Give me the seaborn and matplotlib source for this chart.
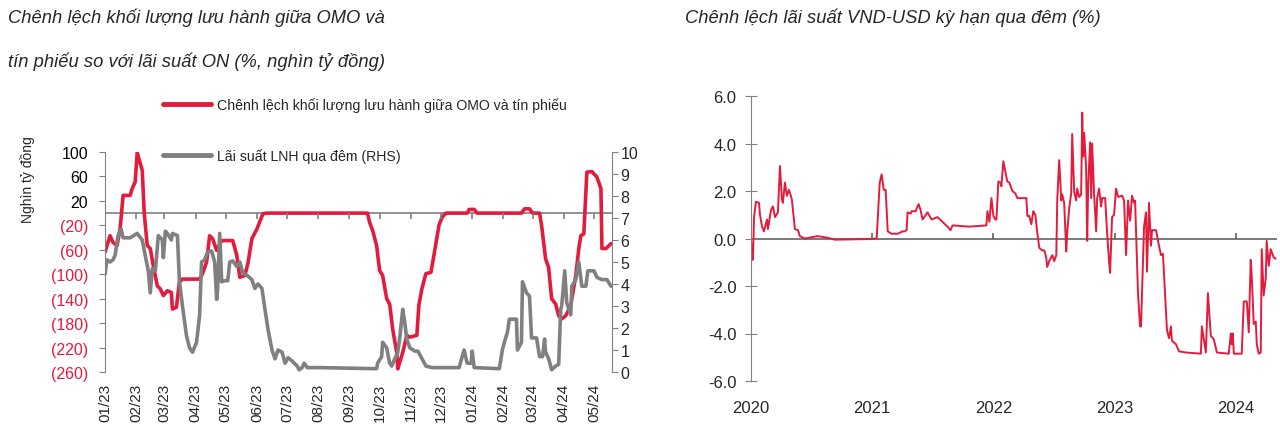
import pandas as pd
import seaborn as sns
import matplotlib.pyplot as plt
import matplotlib.dates as mdates
from matplotlib.lines import Line2D

sns.set_style("white")
plt.rcParams['font.family'] = ['Liberation Sans Narrow', 'Liberation Sans', 'DejaVu Sans']

RED = "#e31b3d"
GRAY = "#808080"

# Left chart: OMO - bill outstanding gap (thousand bn VND)
omo_dates = [
    "2023-01-01", "2023-01-06", "2023-01-09", "2023-01-13", "2023-01-16", "2023-01-19",
    "2023-01-26", "2023-01-28", "2023-01-31", "2023-02-02", "2023-02-07", "2023-02-09",
    "2023-02-12", "2023-02-15", "2023-02-18", "2023-02-22", "2023-02-25", "2023-02-28",
    "2023-03-04", "2023-03-08", "2023-03-09", "2023-03-13", "2023-03-16", "2023-03-19",
    "2023-04-05", "2023-04-08", "2023-04-12", "2023-04-15", "2023-04-18", "2023-04-22",
    "2023-04-27", "2023-05-08", "2023-05-12", "2023-05-15", "2023-05-20", "2023-05-23",
    "2023-05-27", "2023-06-01", "2023-06-07", "2023-06-11", "2023-09-19", "2023-09-21",
    "2023-09-24", "2023-09-28", "2023-10-01", "2023-10-04", "2023-10-08", "2023-10-11",
    "2023-10-14", "2023-10-18", "2023-10-19", "2023-10-21", "2023-10-24", "2023-10-28",
    "2023-10-31", "2023-11-07", "2023-11-09", "2023-11-12", "2023-11-16", "2023-11-21",
    "2023-11-24", "2023-11-29", "2023-12-02", "2023-12-06", "2023-12-27", "2023-12-29",
    "2024-01-03", "2024-01-06", "2024-02-19", "2024-02-22", "2024-02-27", "2024-03-01",
    "2024-03-08", "2024-03-10", "2024-03-14", "2024-03-17", "2024-03-20", "2024-03-24",
    "2024-03-27", "2024-03-30", "2024-04-03", "2024-04-08", "2024-04-13", "2024-04-16",
    "2024-04-18", "2024-04-21", "2024-04-24", "2024-04-29", "2024-05-04", "2024-05-08",
    "2024-05-09", "2024-05-13", "2024-05-18",
]
omo_gap = [
    -64, -37, -48, -53, -26, 29,
    29, 40, 51, 99, 70, 0,
    -53, -58, -86, -119, -124, -135,
    -127, -130, -157, -154, -113, -108,
    -108, -99, -80, -37, -42, -61,
    -45, -45, -69, -105, -102, -83,
    -42, -26, -1, 0, 0, -15,
    -28, -53, -94, -102, -140, -149,
    -190, -228, -255, -244, -228, -200,
    -203, -200, -151, -124, -99, -97,
    -69, -20, -7, 0, 0, 6,
    6, 0, 0, 7, 7, 0,
    0, -20, -75, -89, -140, -149,
    -168, -173, -168, -151, -102, -58,
    -37, -34, 67, 68, 59, 40,
    -58, -58, -50,
]

# Left chart: interbank overnight rate (%, RHS)
on_dates = [
    "2023-01-01", "2023-01-03", "2023-01-06", "2023-01-09", "2023-01-11", "2023-01-14",
    "2023-01-17", "2023-01-19", "2023-01-26", "2023-02-02", "2023-02-07", "2023-02-10",
    "2023-02-13", "2023-02-15", "2023-02-17", "2023-02-20", "2023-02-23", "2023-02-27",
    "2023-02-28", "2023-03-02", "2023-03-04", "2023-03-08", "2023-03-09", "2023-03-14",
    "2023-03-16", "2023-03-19", "2023-03-23", "2023-03-26", "2023-03-29", "2023-04-02",
    "2023-04-05", "2023-04-07", "2023-04-10", "2023-04-13", "2023-04-17", "2023-04-20",
    "2023-04-22", "2023-04-23", "2023-04-25", "2023-04-27", "2023-04-30", "2023-05-03",
    "2023-05-05", "2023-05-08", "2023-05-12", "2023-05-15", "2023-05-18", "2023-05-22",
    "2023-05-27", "2023-05-30", "2023-06-02", "2023-06-06", "2023-06-09", "2023-06-12",
    "2023-06-16", "2023-06-19", "2023-06-22", "2023-06-26", "2023-06-29", "2023-07-02",
    "2023-07-06", "2023-07-11", "2023-07-13", "2023-07-16", "2023-07-18", "2023-07-21",
    "2023-08-02", "2023-09-28", "2023-09-29", "2023-10-03", "2023-10-04", "2023-10-08",
    "2023-10-11", "2023-10-13", "2023-10-16", "2023-10-19", "2023-10-21", "2023-10-24",
    "2023-10-26", "2023-10-28", "2023-10-31", "2023-11-05", "2023-11-08", "2023-11-11",
    "2023-11-16", "2023-11-22", "2023-12-19", "2023-12-24", "2023-12-27", "2023-12-31",
    "2024-01-01", "2024-01-03", "2024-01-28", "2024-01-31", "2024-02-02", "2024-02-05",
    "2024-02-07", "2024-02-14", "2024-02-15", "2024-02-19", "2024-02-20", "2024-02-24",
    "2024-02-27", "2024-02-29", "2024-03-05", "2024-03-08", "2024-03-11", "2024-03-13",
    "2024-03-14", "2024-03-17", "2024-03-20", "2024-03-24", "2024-03-27", "2024-03-29",
    "2024-03-30", "2024-04-02", "2024-04-04", "2024-04-08", "2024-04-09", "2024-04-13",
    "2024-04-16", "2024-04-19", "2024-04-23", "2024-04-25", "2024-05-01", "2024-05-04",
    "2024-05-09", "2024-05-14", "2024-05-18",
]
on_rate = [
    4.45, 5.1, 5.0, 5.1, 5.3, 6.2,
    6.5, 6.1, 6.1, 6.3, 6.0, 5.3,
    4.6, 3.6, 4.7, 4.6, 6.2, 6.0,
    5.2, 6.4, 6.3, 6.0, 6.3, 6.2,
    4.1, 3.0, 1.65, 1.1, 0.9, 1.35,
    2.55, 5.0, 5.1, 5.45, 5.5, 5.0,
    3.3, 3.8, 6.3, 4.1, 4.15, 4.15,
    5.0, 5.05, 4.8, 5.0, 4.5, 4.4,
    4.2, 3.8, 4.0, 3.8, 2.85, 1.95,
    1.0, 0.6, 1.0, 0.9, 0.4, 0.65,
    0.5, 0.27, 0.1, 0.2, 0.4, 0.2,
    0.2, 0.15, 0.4, 0.7, 1.35, 1.1,
    0.4, 0.27, 0.6, 0.9, 1.55, 2.85,
    2.25, 1.5, 1.1, 0.95, 0.95, 0.7,
    0.27, 0.2, 0.2, 1.0, 0.4, 0.4,
    0.95, 0.2, 0.15, 1.0, 1.35, 1.8,
    2.4, 2.4, 1.0, 1.35, 4.1, 3.6,
    3.45, 1.55, 1.55, 0.7, 0.7, 1.5,
    0.9, 0.6, 0.1, 0.27, 0.35, 2.85,
    3.0, 4.6, 3.15, 2.6, 3.9, 4.2,
    5.0, 3.9, 3.9, 4.6, 4.6, 4.3,
    4.2, 4.2, 3.9,
]

# Right chart: VND-USD overnight rate spread (%), x in decimal years
spread_t = [
    2020.0, 2020.008, 2020.016, 2020.025, 2020.041, 2020.066, 2020.074, 2020.091,
    2020.107, 2020.132, 2020.140, 2020.165, 2020.181, 2020.198, 2020.222, 2020.239,
    2020.255, 2020.263, 2020.280, 2020.296, 2020.313, 2020.337, 2020.362, 2020.387,
    2020.403, 2020.444, 2020.551, 2020.634, 2020.691, 2020.996, 2021.037, 2021.062,
    2021.078, 2021.095, 2021.111, 2021.128, 2021.160, 2021.210, 2021.251, 2021.267,
    2021.284, 2021.292, 2021.317, 2021.325, 2021.358, 2021.383, 2021.399, 2021.416,
    2021.457, 2021.490, 2021.539, 2021.580, 2021.621, 2021.646, 2021.663, 2021.802,
    2021.942, 2021.951, 2021.967, 2021.984, 2022.000, 2022.016, 2022.025, 2022.041,
    2022.058, 2022.066, 2022.082, 2022.099, 2022.115, 2022.132, 2022.156, 2022.181,
    2022.198, 2022.230, 2022.272, 2022.280, 2022.296, 2022.313, 2022.329, 2022.346,
    2022.362, 2022.379, 2022.403, 2022.420, 2022.436, 2022.444, 2022.461, 2022.486,
    2022.502, 2022.519, 2022.527, 2022.543, 2022.560, 2022.568, 2022.584, 2022.601,
    2022.609, 2022.626, 2022.642, 2022.650, 2022.667, 2022.683, 2022.691, 2022.708,
    2022.724, 2022.733, 2022.741, 2022.749, 2022.765, 2022.774, 2022.782, 2022.798,
    2022.807, 2022.815, 2022.831, 2022.848, 2022.856, 2022.872, 2022.889, 2022.897,
    2022.922, 2022.938, 2022.955, 2022.963, 2022.979, 2022.996, 2023.012, 2023.029,
    2023.062, 2023.078, 2023.095, 2023.111, 2023.128, 2023.144, 2023.160, 2023.169,
    2023.177, 2023.193, 2023.210, 2023.218, 2023.243, 2023.259, 2023.267, 2023.284,
    2023.300, 2023.309, 2023.342, 2023.366, 2023.383, 2023.399, 2023.416, 2023.432,
    2023.449, 2023.465, 2023.473, 2023.506, 2023.531, 2023.588, 2023.712, 2023.720,
    2023.753, 2023.770, 2023.794, 2023.819, 2023.844, 2023.942, 2023.959, 2023.967,
    2023.975, 2023.984, 2024.049, 2024.066, 2024.091, 2024.107, 2024.123, 2024.132,
    2024.148, 2024.165, 2024.173, 2024.189, 2024.206, 2024.214, 2024.230, 2024.247,
    2024.255, 2024.272, 2024.288, 2024.313, 2024.329,
]
spread = [
    0.0, -0.8, -0.9, 0.9, 1.55, 1.5, 1.0, 0.5,
    0.3, 0.8, 0.4, 1.2, 1.35, 0.9, 1.1, 3.05,
    1.65, 1.5, 2.35, 1.8, 2.05, 1.65, 0.4, 0.35,
    0.1, 0.0, 0.1, 0.03, -0.05, -0.02, 0.0, 2.35,
    2.7, 2.05, 2.05, 0.3, 0.2, 0.2, 0.3, 0.3,
    0.35, 1.1, 1.05, 1.15, 1.15, 1.45, 1.2, 0.8,
    1.1, 0.8, 0.9, 0.7, 0.5, 0.35, 0.55, 0.5,
    0.55, 1.15, 0.7, 1.7, 0.95, 0.8, 0.8, 2.4,
    2.35, 2.2, 3.25, 2.8, 2.4, 2.35, 2.0, 1.9,
    1.7, 1.7, 1.7, 0.95, 0.95, 0.6, 1.15, 1.0,
    0.25, -0.4, -0.5, -0.5, -0.8, -1.2, -0.95, -0.7,
    -0.95, -0.7, 1.65, 3.3, 1.6, 1.85, 1.5, -0.55,
    0.25, 1.3, 1.9, 4.4, 1.95, 1.6, 2.1, 1.75,
    1.85, 5.3, 3.45, 4.45, 3.0, -0.1, 2.2, 4.05,
    1.7, 4.0, 1.85, 0.3, 1.7, 2.1, 1.35, 1.7,
    1.7, 0.25, -1.0, -1.45, 0.9, 1.0, 2.1, 1.75,
    1.8, 1.6, -0.7, 1.6, 0.75, 1.8, 1.5, 1.6,
    0.25, -2.3, -3.7, -3.7, 0.5, 1.1, -1.4, 1.5,
    -0.3, 0.35, 0.35, -0.3, -0.7, -0.65, -2.3, -3.85,
    -4.2, -3.7, -4.3, -4.45, -4.75, -4.8, -4.85, -3.7,
    -4.8, -2.3, -4.1, -4.25, -4.8, -4.85, -4.0, -4.45,
    -4.0, -4.85, -4.85, -2.65, -2.65, -3.95, -0.9, -1.6,
    -3.6, -3.5, -4.45, -4.85, -4.8, -0.45, -2.4, -1.7,
    -0.1, -1.15, -0.45, -0.8, -0.85,
]

left_ticks = [100, 60, 20, -20, -60, -100, -140, -180, -220, -260]
right_ticks = list(range(0, 11))
month_ticks = pd.date_range("2023-01-01", "2024-05-01", freq="MS")
years = [2020, 2021, 2022, 2023, 2024]
spread_ticks = [-6, -4, -2, 0, 2, 4, 6]

omo = pd.DataFrame({"date": pd.to_datetime(omo_dates), "gap": omo_gap})
on = pd.DataFrame({"date": pd.to_datetime(on_dates), "rate": on_rate})
sp = pd.DataFrame({"t": spread_t, "v": spread})

fig = plt.figure(figsize=(12.8, 4.35), dpi=100)

# ---------- left chart ----------
ax = fig.add_axes([105 / 1280, 1 - 373 / 435, 507 / 1280, 220 / 435])
ax2 = ax.twinx()
sns.lineplot(data=omo, x="date", y="gap", ax=ax, color=RED, lw=2.6)
sns.lineplot(data=on, x="date", y="rate", ax=ax2, color=GRAY, lw=2.6)

ax.set_ylim(-260, 100)
ax2.set_ylim(0, 10)
ax.set_xlim(pd.Timestamp("2023-01-01"), pd.Timestamp("2024-05-19"))
ax.set_yticks(left_ticks)
ax.set_yticklabels([str(v) if v > 0 else "(%d)" % -v for v in left_ticks])
for lab, v in zip(ax.get_yticklabels(), left_ticks):
    lab.set_color("black" if v > 0 else RED)
ax2.set_yticks(right_ticks)
ax.set_xticks(month_ticks)
ax.xaxis.set_major_formatter(mdates.DateFormatter("%m/%y"))

ax.axhline(0, color=GRAY, lw=1.2, zorder=0)
ax.vlines(month_ticks, -10, 0, color=GRAY, lw=1.2)

for a in (ax, ax2):
    for s in ("top", "bottom"):
        a.spines[s].set_visible(False)
    a.set_xlabel("")
    a.set_ylabel("")
ax.spines["right"].set_visible(False)
ax.spines["left"].set_color(GRAY)
ax2.spines["left"].set_visible(False)
ax2.spines["right"].set_color(GRAY)

ax.tick_params(axis="x", length=0, pad=8, labelsize=11, labelrotation=90)
ax.tick_params(axis="y", left=True, direction="out", length=4, color=GRAY, pad=8, labelsize=11.5)
ax2.tick_params(axis="y", right=True, direction="out", length=4, color=GRAY, pad=2, labelsize=11.5)

fig.text(28 / 1280, 1 - 180 / 435, "Nghìn tỷ đồng", rotation=90, ha="center", va="center", fontsize=10)

handles = [Line2D([], [], color=RED, lw=3.5), Line2D([], [], color=GRAY, lw=3.5)]
fig.legend(handles, ["Chênh lệch khối lượng lưu hành giữa OMO và tín phiếu",
                     "Lãi suất LNH qua đêm (RHS)"],
           loc="upper left", bbox_to_anchor=(163 / 1280, 1 - 98 / 435), frameon=False,
           fontsize=10.2, handlelength=3.4, handletextpad=0.4, labelspacing=2.55,
           borderpad=0, borderaxespad=0)

fig.text(8 / 1280, 1 - 18 / 435, "Chênh lệch khối lượng lưu hành giữa OMO và",
         style="italic", fontsize=13.2, va="center")
fig.text(8 / 1280, 1 - 62 / 435, "tín phiếu so với lãi suất ON (%, nghìn tỷ đồng)",
         style="italic", fontsize=13.2, va="center")

# ---------- right chart ----------
bx = fig.add_axes([751 / 1280, 1 - 382 / 435, 526 / 1280, 285 / 435])
sns.lineplot(data=sp, x="t", y="v", ax=bx, color=RED, lw=1.4)
bx.set_xlim(2020, 2024.34)
bx.set_ylim(-6, 6)
bx.set_yticks(spread_ticks)
bx.set_yticklabels(["%.1f" % v for v in spread_ticks])
bx.set_xticks(years)
bx.set_xticklabels([str(y) for y in years])
bx.axhline(0, color="#555555", lw=1.1, zorder=0)
bx.vlines(years[1:], 0, 0.25, color="#555555", lw=1.1)
for s in ("top", "right", "bottom"):
    bx.spines[s].set_visible(False)
bx.spines["left"].set_color(GRAY)
bx.set_xlabel("")
bx.set_ylabel("")
bx.tick_params(axis="x", length=0, pad=14, labelsize=12)
bx.tick_params(axis="y", left=True, direction="inout", length=9, color=GRAY, pad=6, labelsize=12)

fig.text(685 / 1280, 1 - 18 / 435, "Chênh lệch lãi suất VND-USD kỳ hạn qua đêm (%)",
         style="italic", fontsize=13.2, va="center")

fig.savefig("out.png", dpi=100)
